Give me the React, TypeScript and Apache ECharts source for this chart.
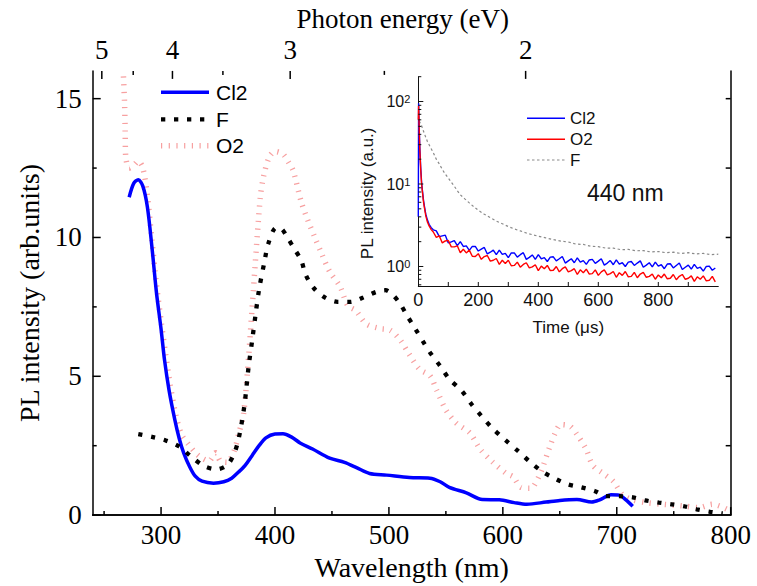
import React, { useEffect, useRef } from 'react';
import * as echarts from 'echarts';

// ---------- axis tick values ----------
const wavelengthTicks = [300, 400, 500, 600, 700, 800];
const wavelengthMinorTicks = [250, 350, 450, 550, 650, 750];
const intensityTicks = [0, 5, 10, 15];
const intensityMinorTicks = [2.5, 7.5, 12.5];
const rightTicks = [2.5, 5, 7.5, 10, 12.5, 15];
const energyTicks = [5, 4, 3, 2];
const energyMinorTicks = [4.5, 3.5, 2.5];
const timeTicks = [100, 200, 300, 400, 500, 600, 700, 800, 900];
const timeLabels = [0, 200, 400, 600, 800];
const logLabelTicks = [1, 10, 100];
const logTicks = [0.6, 0.7, 0.8, 0.9, 1, 2, 3, 4, 5, 6, 7, 8, 9, 10, 20, 30, 40, 50, 60, 70, 80, 90, 100, 200];

// ---------- main spectra ----------
const cl2Nm = [272, 276, 280, 284, 288, 292, 296, 300, 303, 307, 312, 316, 320, 325, 330, 336, 346, 355, 362, 368, 374, 380, 386, 392, 400, 407, 415, 422, 433, 448, 461, 472, 483, 498, 518, 536, 545, 553, 568, 582, 597, 610, 621, 638, 650, 665, 678, 685, 695, 702, 708, 714];
const cl2Pl = [11.45, 11.95, 12.08, 11.85, 11.1, 9.65, 8.0, 6.7, 5.6, 4.5, 3.45, 2.75, 2.22, 1.75, 1.4, 1.22, 1.15, 1.2, 1.33, 1.55, 1.8, 2.15, 2.5, 2.78, 2.92, 2.93, 2.8, 2.6, 2.38, 2.05, 1.9, 1.7, 1.5, 1.44, 1.35, 1.33, 1.2, 1.0, 0.8, 0.56, 0.55, 0.45, 0.39, 0.47, 0.53, 0.56, 0.47, 0.55, 0.73, 0.72, 0.55, 0.32];

const fNm = [280, 292, 304, 316, 326, 338, 349, 358, 364, 368, 373, 377, 380, 383, 386, 391, 394, 401, 406, 410, 417, 423, 427, 434, 444, 455, 466, 477, 489, 497, 503, 510, 516, 523, 530, 537, 545, 553, 564, 572, 581, 591, 602, 613, 624, 635, 647, 657, 669, 681, 691, 702, 714, 725, 737, 748, 760, 770, 782, 793];
const fPl = [2.92, 2.82, 2.69, 2.47, 2.12, 1.76, 1.65, 1.8, 2.2, 2.73, 3.9, 5.4, 6.3, 7.24, 8.12, 9.18, 9.76, 10.35, 10.3, 10.06, 9.59, 9.18, 8.65, 8.18, 7.83, 7.68, 7.68, 7.83, 8.04, 8.1, 7.95, 7.6, 7.18, 6.72, 6.25, 5.8, 5.37, 4.9, 4.47, 4.02, 3.58, 3.12, 2.71, 2.32, 1.91, 1.56, 1.29, 1.11, 1.0, 0.86, 0.68, 0.68, 0.64, 0.53, 0.45, 0.39, 0.31, 0.21, 0.12, 0.06];

const o2Nm = [267, 268, 268.5, 269, 272, 276, 280, 284, 288, 292, 296, 300, 304, 308, 313, 318, 324, 330, 336, 342, 348, 352, 358, 364, 368, 372.5, 377, 380, 387, 390, 395, 400, 407, 412, 416, 423, 429, 435, 441, 448, 457, 464, 471, 480, 492, 501, 510, 518, 527, 536, 542, 550, 559, 571, 580, 591, 603, 609, 616, 624, 627, 634, 641, 646, 651, 659, 665, 673, 679, 688, 697, 705, 713, 726, 740, 758, 772, 784, 797];
const o2Pl = [15.8, 14.8, 13.8, 12.9, 12.5, 12.6, 12.75, 12.5, 11.5, 9.9, 8.3, 7.0, 5.8, 4.7, 3.6, 2.9, 2.55, 2.25, 2.05, 1.95, 2.25, 1.95, 1.9, 2.3, 2.9, 3.67, 5.78, 7.5, 11.4, 12.2, 12.9, 13.1, 13.0, 12.7, 12.4, 11.29, 10.6, 10.0, 9.41, 8.77, 8.24, 7.54, 7.36, 6.89, 6.72, 6.66, 6.3, 5.78, 5.25, 5.02, 4.49, 3.79, 3.32, 2.96, 2.38, 1.91, 1.5, 1.38, 1.0, 0.97, 1.03, 1.62, 2.44, 2.96, 3.26, 3.2, 2.91, 2.38, 1.79, 1.5, 1.21, 0.74, 0.56, 0.45, 0.39, 0.33, 0.27, 0.39, 0.21];

// ---------- inset decays (440 nm) ----------
const decayTime = [0, 1, 2, 3, 4, 5, 6.5, 8, 11, 14, 17.5, 21, 25, 30, 36, 43, 50,
  60, 70, 80, 90, 100, 110, 120, 130, 140, 150, 160, 170, 180, 190, 200, 210, 220, 230, 240, 250, 260, 270, 280, 290, 300, 310, 320, 330, 340, 350, 360, 370, 380, 390, 400, 410, 420, 430, 440, 450, 460, 470, 480, 490, 500, 510, 520, 530, 540, 550, 560, 570, 580, 590, 600, 610, 620, 630, 640, 650, 660, 670, 680, 690, 700, 710, 720, 730, 740, 750, 760, 770, 780, 790, 800, 810, 820, 830, 840, 850, 860, 870, 880, 890, 900, 910, 920, 930, 940, 950, 960, 970, 980, 990];
const cl2Decay = [4, 95, 70, 50, 36, 28, 21, 16, 10.5, 8.2, 6.3, 5.2, 4.3, 3.7, 3.25, 2.95, 2.78,
  2.70, 2.30, 2.35, 2.40, 1.93, 1.99, 2.06, 1.79, 2.00, 1.75, 1.78, 1.57, 1.75,
  1.75, 1.54, 1.62, 1.70, 1.42, 1.49, 1.58, 1.39, 1.58, 1.40, 1.44, 1.28, 1.46,
  1.46, 1.30, 1.39, 1.47, 1.22, 1.29, 1.38, 1.22, 1.39, 1.24, 1.28, 1.15, 1.30,
  1.31, 1.17, 1.24, 1.32, 1.10, 1.17, 1.24, 1.11, 1.27, 1.13, 1.18, 1.06, 1.20,
  1.22, 1.09, 1.16, 1.24, 1.04, 1.10, 1.18, 1.05, 1.20, 1.07, 1.11, 1.00, 1.13,
  1.15, 1.03, 1.10, 1.17, 0.98, 1.04, 1.11, 0.99, 1.13, 1.01, 1.05, 0.94, 1.07,
  1.08, 0.96, 1.03, 1.10, 0.92, 0.98, 1.04, 0.93, 1.06, 0.95, 0.98, 0.88, 1.00,
  1.01, 0.90, 0.96];
const o2Decay = [60, 88, 66, 47, 34, 26, 20, 15, 10, 7.8, 6.0, 5.0, 4.1, 3.5, 3.1, 2.8, 2.62,
  2.26, 2.35, 1.93, 2.04, 2.07, 1.73, 1.73, 1.78, 1.47, 1.62, 1.46, 1.58, 1.33,
  1.32, 1.43, 1.22, 1.32, 1.36, 1.16, 1.19, 1.25, 1.06, 1.19, 1.09, 1.19, 1.02,
  1.03, 1.13, 0.98, 1.06, 1.11, 0.96, 0.99, 1.05, 0.89, 1.01, 0.94, 1.03, 0.89,
  0.90, 1.00, 0.86, 0.94, 0.99, 0.86, 0.89, 0.94, 0.80, 0.91, 0.84, 0.93, 0.81,
  0.82, 0.91, 0.78, 0.86, 0.91, 0.79, 0.82, 0.87, 0.74, 0.84, 0.78, 0.87, 0.75,
  0.76, 0.85, 0.73, 0.81, 0.85, 0.74, 0.76, 0.81, 0.70, 0.79, 0.73, 0.81, 0.71,
  0.72, 0.80, 0.69, 0.76, 0.80, 0.70, 0.72, 0.77, 0.66, 0.75, 0.70, 0.77, 0.67,
  0.68, 0.76, 0.65];

const fTime = [3, 10, 20, 30, 40, 50, 60, 70, 80, 90, 100, 110, 120, 130, 140, 155, 170, 185, 200, 220, 240, 260, 280, 300, 320, 340, 360, 380, 400, 425, 450, 475, 500, 525, 550, 575, 600, 625, 650, 675, 700, 725, 750, 775, 800, 825, 850, 875, 900, 925, 950, 975, 1000];
const fDecay = [58, 52, 41, 33, 28, 24, 20, 17.5, 15, 13.2, 11.8, 10.5, 9.4, 8.3, 7.4, 6.6, 5.9, 5.3, 4.8, 4.3, 3.9, 3.55, 3.3, 3.05, 2.85, 2.7, 2.55, 2.43, 2.33, 2.22, 2.12, 2.03, 1.98, 1.87, 1.85, 1.76, 1.74, 1.67, 1.67, 1.6, 1.61, 1.55, 1.56, 1.5, 1.52, 1.47, 1.49, 1.44, 1.47, 1.42, 1.44, 1.39, 1.41];

const pairs = (xs: number[], ys: number[]) => xs.map((x, i) => [x, ys[i]]);
const toNm = (e: number) => 1240 / e;

const SERIF = 'Liberation Serif';
const SANS = 'Liberation Sans';
const O2_COLOR = '#f7a0a0';

const NM_MIN = 240, NM_MAX = 800, PL_MIN = 0, PL_MAX = 16;
const T_MIN = 0, T_MAX = 1000, LOG_MIN = 0.58, LOG_MAX = 200;

// tick marks as [x, y, dx, dy] in data coords + pixel direction/length
const mainTickData = [
  ...wavelengthTicks.map((v) => [v, PL_MIN, 0, -8]),
  ...wavelengthMinorTicks.map((v) => [v, PL_MIN, 0, -4]),
  ...energyTicks.map((e) => [toNm(e), PL_MAX, 0, 8]),
  ...energyMinorTicks.map((e) => [toNm(e), PL_MAX, 0, 4]),
  ...intensityTicks.map((v) => [NM_MIN, v, 8, 0]),
  ...intensityMinorTicks.map((v) => [NM_MIN, v, 4, 0]),
  ...rightTicks.map((v) => [NM_MAX, v, -5, 0]),
];
const insetTickData = [
  ...timeTicks.map((v) => [v, LOG_MIN, 0, -4]),
  ...logTicks.map((v) => [T_MIN, v, (logLabelTicks.includes(v) ? 5 : 3), 0]),
];

const tickSeries = (xi: number, yi: number, data: number[][], color: string, width: number) => ({
  type: 'custom', xAxisIndex: xi, yAxisIndex: yi, data, clip: false, silent: true, z: 10,
  renderItem: (_p: any, api: any) => {
    const pt = api.coord([api.value(0), api.value(1)]);
    return {
      type: 'line',
      shape: { x1: pt[0], y1: pt[1], x2: pt[0] + api.value(2), y2: pt[1] + api.value(3) },
      style: { stroke: color, lineWidth: width },
    };
  },
});

export default function App() {
  const ref = useRef<HTMLDivElement>(null);
  useEffect(() => {
    if (!ref.current) return;
    const chart = echarts.init(ref.current, undefined, { renderer: 'svg' });
    const lineOn = { show: true, lineStyle: { color: '#000', width: 1.5 } };
    const option: any = {
      animation: false,
      backgroundColor: '#fff',
      grid: [
        { left: 92.7, top: 66, right: 26.3, bottom: 65 },
        { left: 418.3, top: 76.7, right: 38.7, bottom: 300 },
      ],
      xAxis: [
        {
          gridIndex: 0, type: 'value', position: 'bottom', min: NM_MIN, max: NM_MAX,
          axisLine: lineOn, axisTick: { show: false },
          axisLabel: { show: true, customValues: wavelengthTicks, fontSize: 27, fontFamily: SERIF, color: '#000', margin: 6 },
          splitLine: { show: false },
          name: 'Wavelength (nm)', nameLocation: 'middle', nameGap: 30,
          nameTextStyle: { fontSize: 28, fontFamily: SERIF, color: '#000' },
        },
        {
          gridIndex: 0, type: 'value', position: 'top', min: NM_MIN, max: NM_MAX,
          axisLine: lineOn, axisTick: { show: false },
          axisLabel: {
            show: true, customValues: energyTicks.map(toNm), fontSize: 27, fontFamily: SERIF, color: '#000', margin: 7,
            formatter: (v: number) => String(Math.round(1240 / v)),
          },
          splitLine: { show: false },
          name: 'Photon energy (eV)', nameLocation: 'middle', nameGap: 34,
          nameTextStyle: { fontSize: 27, fontFamily: SERIF, color: '#000', padding: [0, 18, 0, 0] },
        },
        {
          gridIndex: 1, type: 'value', position: 'bottom', min: T_MIN, max: T_MAX,
          axisLine: { show: true, lineStyle: { color: '#111', width: 1 } },
          axisTick: { show: false },
          axisLabel: { show: true, customValues: timeLabels, fontSize: 18, fontFamily: SANS, color: '#111', margin: 5 },
          splitLine: { show: false },
          name: 'Time (\u03bcs)', nameLocation: 'middle', nameGap: 33,
          nameTextStyle: { fontSize: 17, fontFamily: SANS, color: '#111' },
        },
      ],
      yAxis: [
        {
          gridIndex: 0, type: 'value', position: 'left', min: PL_MIN, max: PL_MAX,
          axisLine: lineOn, axisTick: { show: false },
          axisLabel: { show: true, customValues: intensityTicks, fontSize: 27, fontFamily: SERIF, color: '#000', margin: 11 },
          splitLine: { show: false },
          name: 'PL intensity (arb.units)', nameLocation: 'middle', nameGap: 47,
          nameTextStyle: { fontSize: 28, fontFamily: SERIF, color: '#000' },
        },
        {
          gridIndex: 0, type: 'value', position: 'right', min: PL_MIN, max: PL_MAX,
          axisLine: lineOn, axisTick: { show: false }, axisLabel: { show: false }, splitLine: { show: false },
        },
        {
          gridIndex: 1, type: 'log', logBase: 10, min: LOG_MIN, max: LOG_MAX, position: 'left',
          axisLine: { show: true, lineStyle: { color: '#111', width: 1 } },
          axisTick: { show: false },
          axisLabel: {
            show: true, customValues: logLabelTicks, fontSize: 16, fontFamily: SANS, color: '#111', margin: 8,
            formatter: (v: number) => `10{s|${Math.round(Math.log10(v))}}`,
            rich: { s: { fontSize: 11, fontFamily: SANS, color: '#111', verticalAlign: 'top', lineHeight: 10 } },
          },
          splitLine: { show: false },
          name: 'PL intensity (a.u.)', nameLocation: 'middle', nameGap: 42,
          nameTextStyle: { fontSize: 17, fontFamily: SANS, color: '#111', padding: [0, 24, 0, 0] },
        },
      ],
      series: [
        {
          name: 'O2', type: 'line', xAxisIndex: 0, yAxisIndex: 0, data: pairs(o2Nm, o2Pl),
          symbol: 'none', smooth: 0.3, lineStyle: { color: O2_COLOR, width: 5.5, type: [1.2, 6.5] },
        },
        {
          name: 'Cl2', type: 'line', xAxisIndex: 0, yAxisIndex: 0, data: pairs(cl2Nm, cl2Pl),
          symbol: 'none', smooth: 0.3, lineStyle: { color: '#0000ff', width: 3.5 },
        },
        {
          name: 'F', type: 'line', xAxisIndex: 0, yAxisIndex: 0, data: pairs(fNm, fPl),
          symbol: 'none', smooth: 0.3, lineStyle: { color: '#000', width: 4.3, type: [4.3, 8.7] },
        },
        {
          name: 'F (440 nm)', type: 'line', xAxisIndex: 2, yAxisIndex: 2, data: pairs(fTime, fDecay),
          symbol: 'none', lineStyle: { color: '#8a8a8a', width: 1.2, type: [2.5, 2.5] },
        },
        {
          name: 'Cl2 (440 nm)', type: 'line', xAxisIndex: 2, yAxisIndex: 2, data: pairs(decayTime, cl2Decay),
          symbol: 'none', lineStyle: { color: '#0000ff', width: 1.4 },
        },
        {
          name: 'O2 (440 nm)', type: 'line', xAxisIndex: 2, yAxisIndex: 2, data: pairs(decayTime, o2Decay),
          symbol: 'none', lineStyle: { color: '#ff0000', width: 1.4 },
        },
        tickSeries(0, 0, mainTickData, '#000', 1.5),
        tickSeries(2, 2, insetTickData, '#111', 1),
      ],
      graphic: [
        { type: 'line', shape: { x1: 161, y1: 92.3, x2: 209, y2: 92.3 }, style: { stroke: '#0000ff', lineWidth: 3.5 } },
        { type: 'line', shape: { x1: 161, y1: 119.3, x2: 209, y2: 119.3 }, style: { stroke: '#000', lineWidth: 4.3, lineDash: [4.3, 8.7] } },
        { type: 'line', shape: { x1: 161, y1: 145.7, x2: 210, y2: 145.7 }, style: { stroke: O2_COLOR, lineWidth: 5.5, lineDash: [1.2, 6.5] } },
        { type: 'text', x: 216, y: 92.3, style: { text: 'Cl2', fontSize: 21, fontFamily: SANS, fill: '#000', verticalAlign: 'middle', align: 'left' } },
        { type: 'text', x: 216, y: 119.3, style: { text: 'F', fontSize: 21, fontFamily: SANS, fill: '#000', verticalAlign: 'middle', align: 'left' } },
        { type: 'text', x: 216, y: 145.7, style: { text: 'O2', fontSize: 21, fontFamily: SANS, fill: '#000', verticalAlign: 'middle', align: 'left' } },

        { type: 'line', shape: { x1: 527, y1: 118.3, x2: 565, y2: 118.3 }, style: { stroke: '#0000ff', lineWidth: 1.4 } },
        { type: 'line', shape: { x1: 527, y1: 139.3, x2: 565, y2: 139.3 }, style: { stroke: '#ff0000', lineWidth: 1.4 } },
        { type: 'line', shape: { x1: 527, y1: 160, x2: 565, y2: 160 }, style: { stroke: '#8a8a8a', lineWidth: 1.2, lineDash: [2.5, 2.5] } },
        { type: 'text', x: 570, y: 118.3, style: { text: 'Cl2', fontSize: 17, fontFamily: SANS, fill: '#111', verticalAlign: 'middle', align: 'left' } },
        { type: 'text', x: 570, y: 139.3, style: { text: 'O2', fontSize: 17, fontFamily: SANS, fill: '#111', verticalAlign: 'middle', align: 'left' } },
        { type: 'text', x: 570, y: 160, style: { text: 'F', fontSize: 17, fontFamily: SANS, fill: '#111', verticalAlign: 'middle', align: 'left' } },
        { type: 'text', x: 587, y: 193, style: { text: '440 nm', fontSize: 23, fontFamily: SANS, fill: '#111', verticalAlign: 'middle', align: 'left' } },
      ],
    };
    chart.setOption(option);
    return () => chart.dispose();
  }, []);
  return <div ref={ref} style={{ position: 'fixed', left: 0, top: 0, width: 757, height: 586 }} />;
}
